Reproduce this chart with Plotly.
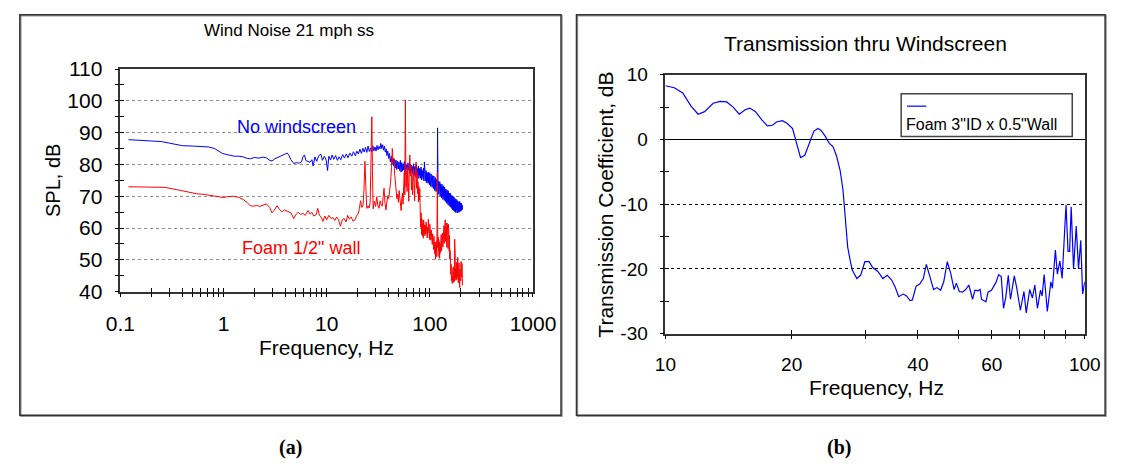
import plotly.graph_objects as go

# ---------------- data: panel (a) ----------------
no_ws_freq = [0.12,0.16,0.2,0.25,0.3,0.35,0.4,0.5,0.6,0.72,0.82,0.9,0.97,1.05,1.15,1.27,1.4,1.55,1.7,1.82,
 2.0,2.2,2.4,2.6,2.8,2.95,3.15,3.35,3.6,3.85,4.15,4.3,4.5,4.8,5.1,5.4,5.7,5.9,6.1,6.3,6.6,6.9,7.2,7.4,7.7,8.0,8.4,8.8,9.1,9.5,9.9,
 10.2,10.5,10.9,11.3,11.7,12.2,12.7,13.2,13.7,14.3,14.9,15.5,16.1,16.8,17.5,18.2,19.0,19.6,20.3,21.0,21.7,22.4,23.1,23.8,24.5,
 25.2,25.9,26.6,27.3,28.0,28.7,29.4,30.1,30.8,31.5,32.2,32.9,33.5,34.2,34.9,35.6,36.3,37.0,37.7,38.4,39.1,39.8,40.6,41.4,42.2,
 43.0,43.8,44.6,45.4,46.2,47.0,47.8,48.6,49.4,50.2,51.0,51.8,52.6,53.4,54.2,55.0,55.8,56.6,57.4,58.2,59.0,59.8,60.6,61.4,62.2,
 63.0,63.8,64.6,65.4,66.2,67.0,67.8,68.6,69.4,70.2,71.0,71.8,72.6,73.4,74.2,75.0,75.8,76.6,77.4,78.2,79.0,79.8,80.6,81.4,82.2,
 83.0,83.8,84.6,85.4,86.2,87.0,87.8,88.6,89.4,90.2,91.0,91.8,92.6,93.4,94.2,95.0,95.8,96.6,97.4,98.2,99.0,99.8,100.6,101.4,102.2,
 103.0,103.8,104.6,105.4,106.2,107.0,107.8,108.6,109.4,110.2,111.0,111.8,112.6,113.4,114.2,115.0,115.8,116.6,117.4,118.2,118.8,119.4,
 120.2,121.0,122.0,123.0,124.0,125.0,126.0,127.0,128.0,129.0,130.0,131.0,132.0,133.0,134.0,135.0,136.0,137.0,138.0,139.0,140.0,
 141.0,142.0,143.0,144.0,145.0,146.0,147.0,148.0,149.0,150.0,151.0,152.0,153.0,154.0,155.0,156.0,157.0,158.0,159.0,160.0,
 161.0,162.0,163.0,164.0,165.0,166.0,167.0,168.0,169.0,170.0,171.0,172.0,173.0,174.0,175.0,176.0,177.0,178.0,179.0,180.0,
 181.0,182.0,183.0,184.0,185.0,186.0,187.0,188.0,189.0,190.0,191.0,192.0,193.0,194.0,195.0,196.0,197.0,198.0,199.0,200.0,
 201.0,202.0,203.0,204.0,205.0,206.0,207.0]
no_ws_spl = [87.8,87.6,87.4,87.2,86.7,86.2,85.9,85.8,85.7,85.5,85.0,84.2,83.5,83.2,82.9,82.6,82.6,82.4,81.9,81.8,
 82.2,82.0,82.3,82.1,81.3,81.1,81.8,82.2,82.6,83.0,83.6,82.9,81.5,80.3,80.6,80.4,80.8,82.4,83.0,81.2,81.0,80.7,81.5,79.5,82.4,81.0,82.8,83.2,81.3,82.6,81.4,
 78.1,82.6,81.4,83.0,81.6,82.8,81.3,82.4,81.5,83.1,82.0,83.3,82.1,83.6,82.6,84.0,82.7,84.2,83.3,84.8,83.5,85.1,83.9,85.4,83.8,
 85.8,84.1,85.2,83.9,85.9,84.3,85.5,84.2,86.0,84.6,85.7,84.9,86.6,85.0,86.2,84.5,85.8,83.9,84.9,82.8,84.2,81.9,83.5,80.8,82.6,
 80.1,81.9,79.5,81.6,78.9,81.4,78.4,81.0,78.6,80.8,78.1,81.3,77.6,80.6,77.9,80.2,78.3,80.9,77.2,80.2,78.4,79.9,77.6,80.5,78.2,
 79.4,77.3,80.1,76.6,79.8,77.8,79.3,76.9,80.2,76.4,79.3,77.1,79.6,76.0,79.9,76.7,78.7,76.2,79.5,75.6,78.8,76.6,78.4,75.7,79.2,
 75.1,78.4,76.2,77.9,75.3,78.9,74.8,80.8,75.6,77.6,74.9,78.1,74.3,77.5,74.8,77.3,74.1,77.6,74.4,76.7,73.6,77.4,74.1,76.5,73.1,
 77.0,73.6,76.1,72.8,76.5,73.4,75.6,72.3,76.4,72.9,75.3,71.8,75.9,72.3,74.9,71.5,75.3,71.9,74.6,71.3,91.5,73.2,
 71.5,74.8,70.6,74.0,71.1,74.6,70.0,73.9,70.5,73.2,69.5,73.8,70.1,72.8,69.0,73.3,69.7,72.2,68.7,72.9,69.2,
 71.8,68.3,72.3,68.9,71.6,67.8,72.0,68.4,70.9,67.4,71.7,68.0,70.6,67.0,71.0,67.6,70.4,66.6,70.9,67.1,
 69.8,66.2,70.3,66.8,69.6,65.8,70.1,66.5,69.0,65.5,69.8,66.1,68.8,65.2,69.3,65.8,68.6,64.9,69.1,65.5,
 68.2,65.1,68.9,64.8,68.0,65.6,68.5,64.9,67.8,65.3,68.2,65.0,67.5,65.8,68.4,65.2,67.3,65.4,67.9,65.9,
 67.2,65.5,67.8,66.1,66.9,65.8,67.2]

foam_freq = [0.12,0.2,0.27,0.35,0.45,0.55,0.65,0.75,0.9,1.0,1.1,1.25,1.4,1.55,1.7,1.82,1.95,2.1,2.25,2.45,2.6,2.8,2.95,3.1,3.3,3.5,3.7,3.9,
 4.2,4.5,4.8,5.0,5.3,5.6,5.9,6.2,6.6,6.9,7.2,7.5,7.9,8.2,8.5,8.8,9.2,9.6,10.0,10.5,11.0,11.5,12.0,12.5,13.0,13.6,14.2,14.8,15.4,16.0,
 16.6,17.3,18.0,18.8,19.5,20.2,20.8,21.3,21.9,22.5,23.0,23.5,24.0,24.5,25.2,25.8,26.4,27.0,27.4,27.8,28.2,29.0,29.8,30.6,31.4,32.2,
 33.0,33.8,34.6,35.4,36.0,36.8,37.6,38.4,39.2,40.0,40.8,41.6,42.5,43.3,44.0,44.8,45.6,46.4,47.2,48.0,48.8,49.6,50.4,51.2,52.0,52.7,
 53.5,54.3,55.0,55.8,56.5,57.2,57.6,58.0,58.4,58.8,59.5,60.2,61.0,61.8,62.5,63.2,64.0,64.8,65.6,66.4,67.2,68.0,68.8,69.6,70.4,71.2,
 72.0,72.8,73.6,74.4,75.2,76.0,76.8,77.6,78.4,79.2,80.0,80.8,81.6,82.4,83.2,84.0,84.8,85.6,86.4,87.2,88.0,88.8,89.6,90.4,91.2,92.0,
 92.8,93.6,94.4,95.2,96.0,96.8,97.6,98.4,99.2,100.0,100.8,101.6,102.4,103.2,104.0,104.8,105.6,106.4,107.2,108.0,108.8,109.6,110.4,
 111.2,112.0,112.8,113.6,114.4,115.2,116.0,116.8,117.6,118.4,119.0,119.6,120.4,121.2,122.0,122.8,123.6,124.4,125.2,126.0,127.0,
 128.0,129.0,130.0,131.0,132.0,133.0,134.0,135.0,136.0,137.0,138.0,139.0,140.0,141.0,142.0,143.0,144.0,145.0,146.0,147.0,148.0,
 149.0,150.0,151.0,152.0,153.0,154.0,155.0,156.0,157.0,158.0,159.0,160.0,161.0,162.0,163.0,164.0,165.0,166.0,167.0,168.0,169.0,
 170.0,171.0,172.0,173.0,174.0,175.0,176.0,177.0,178.0,179.0,180.0,181.0,182.0,183.0,184.0,185.0,186.0,187.0,188.0,189.0,190.0,
 191.0,192.0,193.0,194.0,195.0,196.0,197.0,198.0,199.0,200.0,201.0,202.0,203.0,204.0,205.0,206.0,207.0]
foam_spl = [73.0,72.9,72.8,72.1,71.4,70.8,70.6,70.2,69.7,69.6,69.9,70.0,69.7,69.0,68.0,67.0,66.9,67.1,66.8,67.4,67.6,66.5,64.8,65.6,67.0,65.8,65.1,65.7,
 65.3,64.8,63.0,64.1,65.0,64.3,64.6,64.0,65.5,64.4,64.9,63.8,64.2,66.2,64.0,63.6,62.1,63.8,62.6,64.0,63.0,63.3,62.4,63.5,62.6,60.6,62.7,63.0,61.9,64.0,
 62.8,63.5,62.2,62.6,63.8,64.5,66.2,68.6,66.5,67.0,72.0,81.0,72.5,66.2,67.0,66.3,68.0,80.0,95.0,78.0,66.0,68.5,66.8,69.9,67.0,66.2,
 68.6,67.2,66.9,70.4,72.5,67.8,65.7,68.4,70.2,69.3,71.6,74.3,79.0,85.0,80.5,82.0,77.0,73.5,71.5,69.2,70.6,68.1,71.8,69.5,66.9,65.5,
 69.3,71.0,67.5,73.2,77.5,70.5,85.0,100.3,82.0,73.0,77.8,71.5,79.2,74.3,68.4,78.0,83.0,76.5,79.5,72.0,76.8,70.4,73.8,78.6,74.0,68.5,
 76.2,79.0,80.8,72.5,77.6,70.8,74.6,68.2,73.0,68.8,72.3,64.5,60.2,64.8,58.0,62.8,57.5,61.4,56.8,62.5,58.3,61.0,57.6,60.8,58.1,61.9,
 57.2,61.5,56.9,60.3,58.5,62.8,57.0,60.6,56.4,61.2,57.8,60.1,56.2,59.4,55.6,59.0,54.9,58.2,55.8,57.1,53.2,57.4,52.5,
 56.5,51.8,55.6,50.2,54.2,52.6,56.0,51.0,60.0,77.5,62.0,53.8,57.2,52.8,56.4,51.0,55.6,50.5,54.9,52.1,57.2,
 53.6,58.0,52.8,56.8,53.5,58.4,54.1,59.6,55.0,60.8,55.2,61.0,56.8,62.6,56.0,61.6,55.7,60.4,54.0,61.6,55.9,
 59.4,53.6,61.2,54.0,58.5,52.8,57.6,50.2,53.0,46.9,50.1,45.4,48.6,43.5,47.2,44.7,42.6,46.0,43.8,47.6,42.9,45.5,
 44.0,48.0,43.2,56.5,45.5,52.0,44.4,47.2,43.6,46.8,44.9,49.2,43.8,47.5,44.6,50.8,45.1,48.4,42.8,46.4,44.2,
 49.0,43.5,45.8,41.3,47.1,44.3,48.6,45.4,43.4,49.5,45.2,47.8,44.6,48.9,46.1,42.0,47.4]

# ---------------- data: panel (b) ----------------
tc_freq = [10.0,10.5,11.0,11.5,11.97,12.4,13.0,13.5,14.0,14.5,15.0,15.5,15.9,16.4,17.0,17.5,18.0,18.4,19.0,19.5,20.1,20.5,21.0,21.5,22.0,
 22.6,23.1,23.5,24.0,24.6,25.1,25.6,26.1,26.5,26.7,27.0,27.2,27.6,27.9,28.6,29.2,29.9,30.6,31.2,32.1,33.0,33.8,34.6,35.3,36.0,36.9,
 37.6,38.3,38.8,39.6,40.4,41.2,41.9,42.8,43.6,44.4,45.3,46.1,47.0,47.9,48.8,49.4,50.2,51.1,52.0,52.9,54.0,54.7,55.6,56.3,56.7,58.1,
 58.8,59.9,61.4,62.3,63.2,64.0,64.8,65.7,66.5,67.9,68.8,70.2,71.6,72.5,73.9,75.0,76.0,77.1,78.4,79.1,80.0,81.4,83.0,83.7,85.1,86.0,
 87.2,88.3,89.3,90.2,91.2,92.0,92.8,94.0,95.4,96.6,97.8,98.8,100.0]
tc_db = [8.3,8.0,7.2,5.2,3.9,4.3,5.6,5.9,5.8,5.0,3.9,4.6,4.85,4.3,3.0,2.1,2.2,2.7,2.9,2.5,1.7,-0.4,-2.8,-2.45,-0.6,
 1.3,1.7,1.4,0.6,-0.6,-1.1,-2.6,-4.8,-7.7,-10.2,-14.1,-16.6,-18.8,-20.2,-21.5,-21.0,-18.9,-18.9,-19.8,-20.4,-21.5,-21.0,-21.7,-22.8,-24.3,-23.9,
 -24.2,-24.9,-24.8,-22.7,-22.35,-21.5,-19.3,-21.5,-23.2,-22.9,-23.3,-22.0,-18.9,-20.7,-23.2,-22.2,-23.5,-23.6,-23.2,-22.5,-24.7,-23.3,-23.4,-23.2,-24.7,-25.1,
 -23.6,-23.3,-22.1,-20.9,-21.2,-26.1,-24.4,-21.0,-24.7,-21.1,-22.9,-26.4,-23.5,-26.8,-23.2,-24.5,-22.5,-26.1,-23.3,-24.2,-20.9,-26.6,-22.0,-23.0,-17.1,-20.8,
 -18.8,-21.5,-14.1,-10.1,-17.3,-17.3,-10.4,-20.0,-13.4,-20.0,-15.6,-23.9,-22.0]

# tick definitions
a_xticks = [0.1,0.2,0.3,0.4,0.5,0.6,0.7,0.8,0.9,1,2,3,4,5,6,7,8,9,10,20,30,40,50,60,70,80,90,
            100,200,300,400,500,600,700,800,900,1000]
a_xlabels = {0.1: "0.1", 1: "1", 10: "10", 100: "100", 1000: "1000"}
a_yticks = [40, 50, 60, 70, 80, 90, 100, 110]
a_yminor = [45, 55, 65, 75, 85, 95, 105]
b_xticks = [10, 20, 30, 40, 50, 60, 70, 80, 90, 100]
b_xlabels = {10: "10", 20: "20", 40: "40", 60: "60", 100: "100"}
b_yticks = [-30, -20, -10, 0, 10]
b_yminor = [-25, -15, -5, 5]

W, H = 1131, 472
FONT = "Liberation Sans, Arial, Helvetica, sans-serif"


def px(x):
    return x / W


def py(y):
    return 1 - y / H


# plot areas in pixels
A = dict(l=109, r=536, t=60, b=294)
B = dict(l=673, r=1107, t=66, b=338)

fig = go.Figure()
fig.add_trace(go.Scatter(x=no_ws_freq, y=no_ws_spl, mode="lines", line=dict(color="#0000FF", width=1),
                         xaxis="x", yaxis="y", showlegend=False, name="No windscreen"))
fig.add_trace(go.Scatter(x=foam_freq, y=foam_spl, mode="lines", line=dict(color="#FF0000", width=1),
                         xaxis="x", yaxis="y", showlegend=False, name="Foam 1/2\" wall"))
fig.add_trace(go.Scatter(x=tc_freq, y=tc_db, mode="lines", line=dict(color="#0000FF", width=1.2),
                         xaxis="x2", yaxis="y2", showlegend=False, name="Foam 3\"ID x 0.5\"Wall"))
# empty traces that carry the inward half of the crossing tick marks
fig.add_trace(go.Scatter(x=[], y=[], xaxis="x3", yaxis="y3", showlegend=False, hoverinfo="skip"))
fig.add_trace(go.Scatter(x=[], y=[], xaxis="x4", yaxis="y4", showlegend=False, hoverinfo="skip"))

tick_a = dict(family=FONT, size=21, color="black")
tick_b = dict(family=FONT, size=19, color="black")
axcol = "#333333"

common_x = dict(type="log", showgrid=False, zeroline=False, tickmode="array", ticklen=4,
                tickwidth=1, tickcolor="black", showline=True, linecolor=axcol, linewidth=1.5,
                mirror=True)
common_y = dict(showgrid=True, zeroline=False, tickmode="array", ticklen=4, tickwidth=1,
                tickcolor="black", showline=True, linecolor=axcol, linewidth=1.5, mirror=True,
                ticklabelstandoff=8)

fig.update_layout(
    width=W, height=H, margin=dict(l=0, r=0, t=0, b=0),
    paper_bgcolor="white", plot_bgcolor="white",
    xaxis=dict(common_x, domain=[px(A["l"]), px(A["r"])], range=[-1, 3], anchor="y",
               tickvals=a_xticks, ticktext=[a_xlabels.get(v, "") for v in a_xticks], ticks="outside",
               tickfont=tick_a, ticklabelstandoff=8),
    yaxis=dict(common_y, domain=[py(A["b"]), py(A["t"])], range=[40, 110], anchor="x",
               tickvals=a_yticks, ticktext=[str(v) for v in a_yticks], ticks="outside", tickfont=tick_a,
               gridcolor="#8c8c8c", griddash="dot", gridwidth=1.3,
               minor=dict(tickvals=a_yminor, ticks="outside", ticklen=4, tickcolor="black", showgrid=False)),
    xaxis3=dict(type="log", overlaying="x", anchor="y", range=[-1, 3], showgrid=False, zeroline=False,
                showline=False, tickmode="array", tickvals=a_xticks, ticks="inside", ticklen=4,
                tickcolor="black", showticklabels=False),
    yaxis3=dict(overlaying="y", anchor="x", range=[40, 110], showgrid=False, zeroline=False,
                showline=False, tickmode="array", tickvals=a_yticks + a_yminor, ticks="inside",
                ticklen=4, tickcolor="black", showticklabels=False),
    xaxis2=dict(common_x, domain=[px(B["l"]), px(B["r"])], range=[1, 2], anchor="y2",
                tickvals=b_xticks, ticktext=[b_xlabels.get(v, "") for v in b_xticks], ticks="outside",
                tickfont=tick_b, ticklabelstandoff=9),
    yaxis2=dict(common_y, domain=[py(B["b"]), py(B["t"])], range=[-30, 10], anchor="x2",
                tickvals=b_yticks, ticktext=[str(v) for v in b_yticks], ticks="outside", tickfont=tick_b,
                gridcolor="black", griddash="dot", gridwidth=1,
                zeroline=True, zerolinecolor="black", zerolinewidth=1,
                minor=dict(tickvals=b_yminor, ticks="outside", ticklen=4, tickcolor="black", showgrid=False)),
    xaxis4=dict(type="log", overlaying="x2", anchor="y2", range=[1, 2], showgrid=False, zeroline=False,
                showline=False, tickmode="array", tickvals=b_xticks, ticks="inside", ticklen=4,
                tickcolor="black", showticklabels=False),
    yaxis4=dict(overlaying="y2", anchor="x2", range=[-30, 10], showgrid=False, zeroline=False,
                showline=False, tickmode="array", tickvals=b_yticks + b_yminor, ticks="inside",
                ticklen=4, tickcolor="black", showticklabels=False),
)

shapes = []
# outer frames of the two panels
for (x0, x1) in [(5, 565), (581, 1128)]:
    shapes.append(dict(type="rect", xref="paper", yref="paper", x0=px(x0 + 1), x1=px(x1 + 1),
                       y0=py(424 + 1), y1=py(3 + 1), line=dict(color="#9a9a9a", width=1.5)))
    shapes.append(dict(type="rect", xref="paper", yref="paper", x0=px(x0), x1=px(x1),
                       y0=py(424), y1=py(3), line=dict(color="#333333", width=1.5)))
# legend frame of panel (b)
shapes.append(dict(type="rect", xref="paper", yref="paper", x0=px(917), x1=px(1094), y0=py(131), y1=py(86),
                   line=dict(color="#444444", width=1.5), fillcolor="white", layer="above"))
shapes.append(dict(type="line", xref="paper", yref="paper", x0=px(923), x1=px(943), y0=py(99), y1=py(99),
                   line=dict(color="#0000FF", width=1.2), layer="above"))

ann = []


def text(x, y, s, size, color="black", angle=0, family=FONT, xanchor="center"):
    ann.append(dict(x=px(x), y=py(y), xref="paper", yref="paper", text=s, showarrow=False,
                    font=dict(family=family, size=size, color=color), textangle=angle,
                    xanchor=xanchor, yanchor="middle", borderpad=0))


text(284, 19, "Wind Noise 21 mph ss", 17)
text(322, 353, "Frequency, Hz", 21)
text(40, 177, "SPL, dB", 20, angle=-90)
text(291, 121, "No windscreen", 18, color="#0000FF")
text(296, 248, "Foam 1/2\" wall", 18, color="#FF0000")

text(880, 33, "Transmission thru Windscreen", 21)
text(891, 395, "Frequency, Hz", 21)
text(611, 202, "Transmission Coefficient, dB", 21, angle=-90)
text(921, 118, "Foam 3\"ID x 0.5\"Wall", 16, xanchor="left")

text(285, 458, "<b>(a)</b>", 20, family="Liberation Serif, Times New Roman, serif")
text(853, 458, "<b>(b)</b>", 20, family="Liberation Serif, Times New Roman, serif")

fig.update_layout(shapes=shapes, annotations=ann)
fig.write_html("out.html")
